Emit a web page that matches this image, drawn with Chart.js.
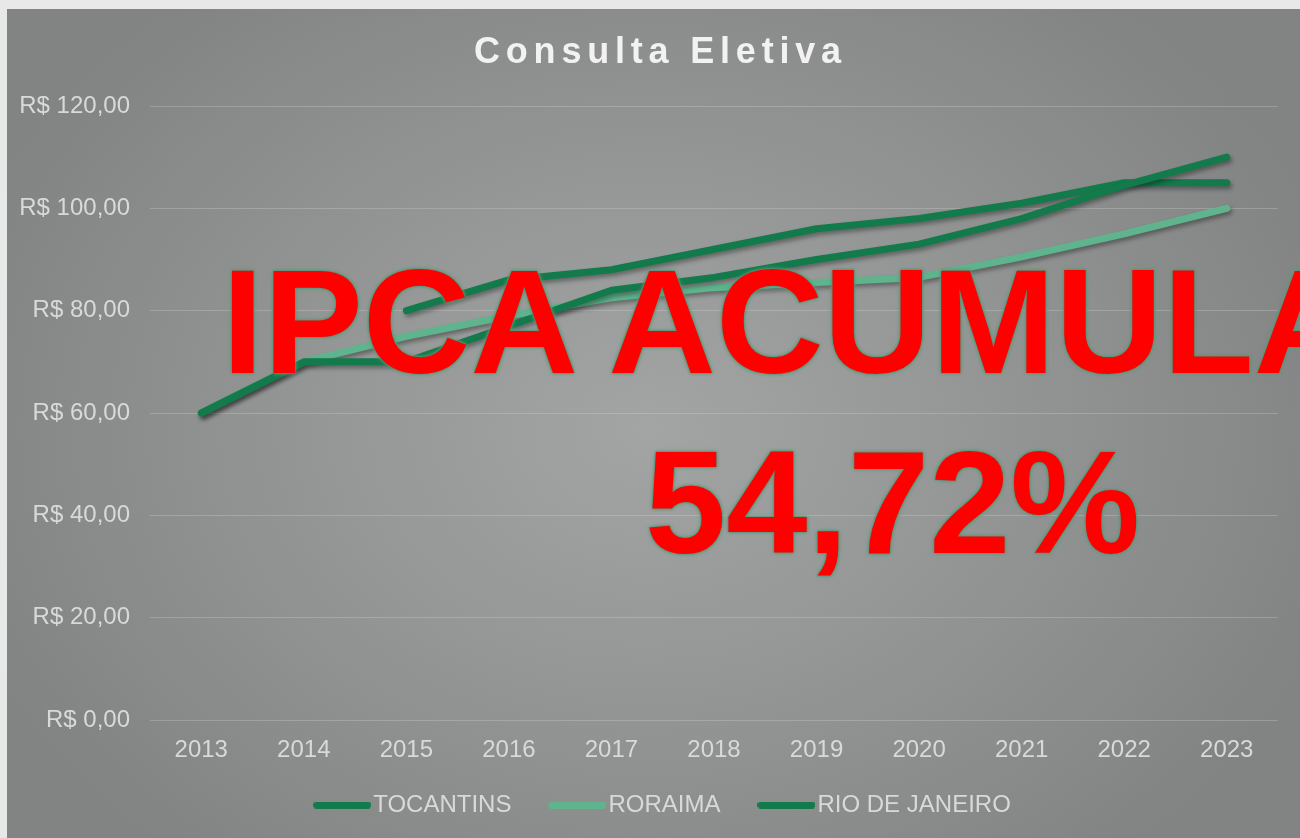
<!DOCTYPE html>
<html lang="pt-BR">
<head>
  <meta charset="UTF-8" />
  <title>Consulta Eletiva</title>
  <script src="https://cdn.jsdelivr.net/npm/chart.js"></script>
  <style>
    * { box-sizing: border-box; }
    html, body {
      margin: 0;
      width: 1300px;
      height: 838px;
      overflow: hidden;
      background: #e8e8e8;
      font-family: 'Liberation Sans', Arial, sans-serif;
    }
    .panel {
      position: absolute;
      left: 7px;
      top: 9px;
      width: 1320px;
      height: 850px;
      background: radial-gradient(ellipse 720px 560px at 640px 420px, #a3a5a4 0%, #959796 45%, #818483 100%);
    }
    .wrap {
      position: absolute;
      left: 0;
      top: 0;
      width: 1300px;
      height: 838px;
    }
    .title {
      position: absolute;
      left: 474px;
      top: 33px;
      font-size: 36px;
      line-height: 1;
      font-weight: bold;
      letter-spacing: 5.8px;
      color: #f2f2f2;
      white-space: nowrap;
    }
    .big {
      position: absolute;
      font-weight: bold;
      line-height: 1;
      color: #ff0000;
      white-space: nowrap;
      text-shadow: 0 0 2px #4f9474, 0 0 3px #4f9474, 0 0 5px #5c9c7e;
    }
    #ipca { left: 222px; top: 247px; font-size: 149px; }
    #pct { left: 645px; top: 430px; font-size: 146px; }
  </style>
</head>
<body>
  <div class="panel"></div>
  <div class="wrap"><canvas id="chart" width="1300" height="838"></canvas></div>
  <div class="title">Consulta Eletiva</div>
  <div class="big" id="ipca">IPCA ACUMULADO</div>
  <div class="big" id="pct">54,72%</div>

  <script>
    const years = ['2013', '2014', '2015', '2016', '2017', '2018', '2019', '2020', '2021', '2022', '2023'];
    const tocantins = [60, 70, 70, 77, 84, 86.5, 90, 93, 98, 104.5, 110];
    const roraima = [60, 70, 75, 79, 82.5, 84.5, 85.5, 86.5, 90.5, 95, 100];
    const rioDeJaneiro = [null, null, 80, 86, 88, 92, 96, 98, 101, 105, 105];

    const darkGreen = '#127a4b';
    const lightGreen = '#5fb48d';
    const labelFont = { family: "'Liberation Sans', Arial", size: 24 };

    // soft drop shadow under each line, like the original
    const lineShadow = {
      id: 'lineShadow',
      beforeDatasetDraw(chart) {
        const ctx = chart.ctx;
        ctx.save();
        ctx.shadowColor = 'rgba(0,0,0,0.35)';
        ctx.shadowBlur = 4;
        ctx.shadowOffsetX = 2;
        ctx.shadowOffsetY = 3;
      },
      afterDatasetDraw(chart) {
        chart.ctx.restore();
      }
    };

    // move the legend box a bit right and up after layout
    const legendNudge = {
      id: 'legendNudge',
      afterLayout(chart) {
        const lg = chart.legend;
        lg.left += 28;
        lg.right += 28;
        lg.top -= 20;
        lg.bottom -= 20;
      }
    };

    // legend sample: a 58px rounded bar, wider than the legend box so the text sits close to it
    function legendBar(color) {
      const c = document.createElement('canvas');
      c.width = 58;
      c.height = 7;
      const g = c.getContext('2d');
      g.fillStyle = color;
      g.beginPath();
      g.roundRect(0, 0, 58, 7, 3.5);
      g.fill();
      return c;
    }

    const brl = v => 'R$ ' + v.toFixed(2).replace('.', ',');

    new Chart(document.getElementById('chart'), {
      type: 'line',
      data: {
        labels: years,
        datasets: [
          { label: 'TOCANTINS', data: tocantins, borderColor: darkGreen, backgroundColor: darkGreen },
          { label: 'RORAIMA', data: roraima, borderColor: lightGreen, backgroundColor: lightGreen },
          { label: 'RIO DE JANEIRO', data: rioDeJaneiro, borderColor: darkGreen, backgroundColor: darkGreen }
        ]
      },
      options: {
        responsive: false,
        animation: false,
        layout: { padding: { top: 106, left: 0, right: 22, bottom: 0 } },
        elements: {
          line: { borderWidth: 7, tension: 0, borderCapStyle: 'round', borderJoinStyle: 'round' },
          point: { radius: 0, hoverRadius: 0 }
        },
        scales: {
          x: {
            offset: true,
            grid: { display: false, drawTicks: false },
            border: { display: false },
            ticks: { color: '#d9d9d9', padding: 16, font: labelFont },
            afterFit(scale) { scale.height = 46; }
          },
          y: {
            min: 0,
            max: 120,
            ticks: {
              stepSize: 20,
              color: '#d9d9d9',
              padding: 20,
              font: labelFont,
              callback: v => brl(v)
            },
            grid: { color: 'rgba(220,220,220,0.28)', lineWidth: 1, drawTicks: false },
            border: { display: false },
            afterFit(scale) { scale.width = 150; }
          }
        },
        plugins: {
          title: { display: false },
          tooltip: { enabled: false },
          legend: {
            position: 'bottom',
            maxHeight: 72,
            labels: {
              color: '#d9d9d9',
              font: labelFont,
              usePointStyle: true,
              pointStyleWidth: 38,
              padding: 47,
              generateLabels(chart) {
                return chart.data.datasets.map((ds, i) => ({
                  text: ds.label,
                  pointStyle: legendBar(ds.borderColor),
                  fillStyle: ds.borderColor,
                  strokeStyle: ds.borderColor,
                  lineWidth: 0,
                  fontColor: '#d9d9d9',
                  datasetIndex: i
                }));
              }
            }
          }
        }
      },
      plugins: [lineShadow, legendNudge]
    });
  </script>
</body>
</html>
